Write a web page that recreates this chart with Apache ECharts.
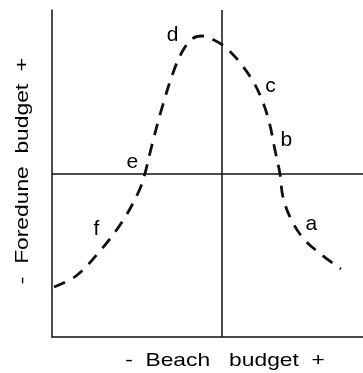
<!DOCTYPE html>
<html>
<head>
<meta charset="utf-8">
<script src="https://cdn.jsdelivr.net/npm/echarts@6/dist/echarts.min.js"></script>
<style>
  html, body { margin: 0; padding: 0; background: #fff; }
  #chart { width: 363px; height: 373px; }
</style>
</head>
<body>
<div id="chart"></div>
<script>
// Beach budget (x) vs foredune budget (y), both on a relative -1..+1 scale
const curveX = [-0.988, -0.859, -0.718, -0.588, -0.488, -0.453, -0.412, -0.353, -0.288, -0.235,
                -0.176, -0.118, -0.047, 0.018, 0.094, 0.182, 0.241, 0.282, 0.312, 0.341,
                0.359, 0.406, 0.482, 0.588, 0.700];
const curveY = [-0.694, -0.627, -0.474, -0.297, -0.107, 0.0, 0.174, 0.401, 0.615, 0.743,
                0.823, 0.841, 0.817, 0.774, 0.694, 0.566, 0.437, 0.297, 0.144, 0.0,
                -0.144, -0.278, -0.401, -0.498, -0.584];

// Stage letters along the curve
const stageNames = ['a', 'b', 'c', 'd', 'e', 'f'];
const stageX = [0.529, 0.382, 0.288, -0.288, -0.524, -0.735];
const stageY = [-0.315, 0.199, 0.529, 0.844, 0.064, -0.346];

const xTitle = '-  Beach   budget  +';
const yTitle = '-  Foredune  budget  +';

const font = "'Liberation Sans', Arial, Helvetica, sans-serif";
const ink = '#000';

const chart = echarts.init(document.getElementById('chart'), null, { renderer: 'canvas' });

const axisCommon = {
  type: 'value',
  axisTick: { show: false },
  axisLabel: { show: false },
  splitLine: { show: false },
  axisLine: { show: true, onZero: false, lineStyle: { color: '#111', width: 1.5 } }
};

// Axis titles use a slightly widened face
function titleText(text, x, y, rotation) {
  return {
    type: 'text',
    x: x, y: y,
    rotation: rotation,
    scaleX: 1.2,
    silent: true,
    style: {
      text: text, x: 0, y: 0,
      align: 'center', verticalAlign: 'middle',
      font: '19px ' + font,
      fill: ink
    }
  };
}

chart.setOption({
  animation: false,
  grid: { left: 52, right: 0, top: 10, bottom: 36 },
  xAxis: Object.assign({}, axisCommon, { min: -1, max: 0.83 }),
  yAxis: Object.assign({}, axisCommon, { min: -1, max: 1 }),
  graphic: [
    titleText(xTitle, 225, 361, 0),
    titleText(yTitle, 23, 171, Math.PI / 2)
  ],
  series: [
    {
      type: 'line',
      data: curveX.map((x, i) => [x, curveY[i]]),
      smooth: 0.35,
      showSymbol: false,
      symbol: 'none',
      lineStyle: { color: '#111', width: 2.8, type: [12, 9], cap: 'butt' },
      markLine: {
        silent: true,
        symbol: 'none',
        label: { show: false },
        lineStyle: { color: '#111', width: 1.5, type: 'solid' },
        data: [{ xAxis: 0 }, { yAxis: 0 }]
      },
      z: 3
    },
    {
      type: 'scatter',
      symbolSize: 1,
      itemStyle: { opacity: 0 },
      data: stageNames.map((n, i) => ({ name: n, value: [stageX[i], stageY[i]] })),
      label: {
        show: true,
        position: [0, 0],
        align: 'center',
        verticalAlign: 'middle',
        formatter: p => p.name,
        fontFamily: font,
        fontSize: 21,
        color: ink,
        opacity: 1
      },
      z: 4
    }
  ]
});
</script>
</body>
</html>
